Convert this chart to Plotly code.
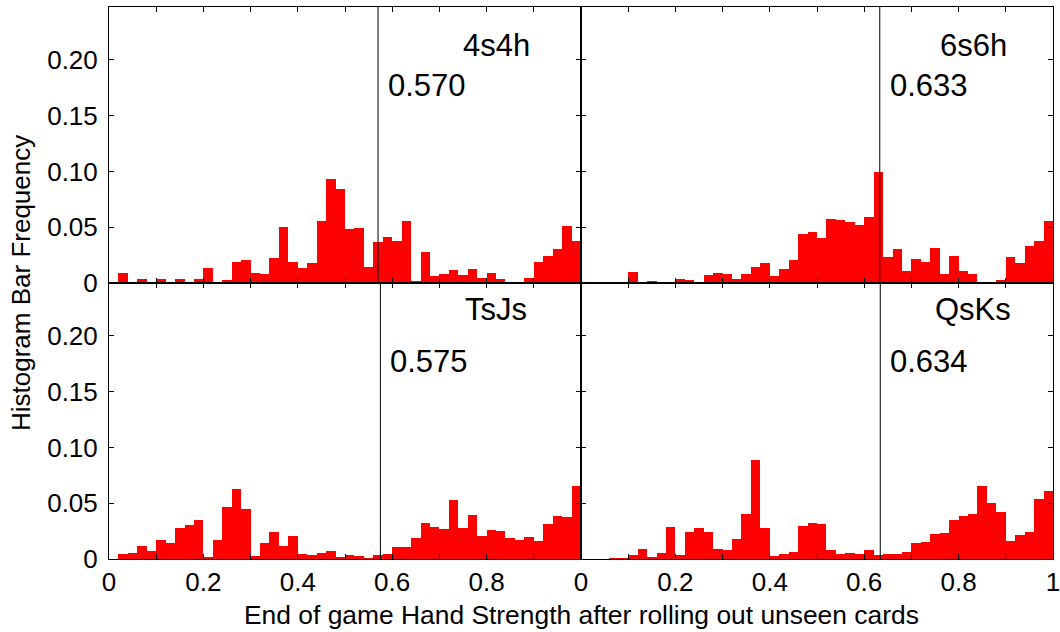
import numpy as np
import plotly.graph_objects as go

# ---------------- data ----------------
BIN_EDGES = np.linspace(0.0, 1.0, 51)          # 50 bins of width 0.02
HANDS = ["4s4h", "6s6h", "TsJs", "QsKs"]
MEAN_STRENGTH = [0.570, 0.633, 0.575, 0.634]

FREQ_4S4H = [0.0, 0.0091, 0.0009, 0.0033, 0.0006, 0.0033, 0.0006, 0.0039, 0.0006, 0.0036,
             0.0133, 0.0006, 0.0024, 0.0185, 0.0203, 0.0088, 0.0085, 0.0227, 0.0503, 0.0191,
             0.0136, 0.0179, 0.0555, 0.0930, 0.0845, 0.0488, 0.0494, 0.0148, 0.0370, 0.0415,
             0.0376, 0.0552, 0.0018, 0.0276, 0.0067, 0.0079, 0.0115, 0.0076, 0.0127, 0.0042,
             0.0091, 0.0036, 0.0003, 0.0003, 0.0048, 0.0188, 0.0239, 0.0306, 0.0512, 0.0379]
FREQ_6S6H = [0.0, 0.0, 0.0, 0.0006, 0.0003, 0.0097, 0.0003, 0.0021, 0.0006, 0.0006,
             0.0039, 0.0024, 0.0009, 0.0070, 0.0094, 0.0079, 0.0039, 0.0079, 0.0142, 0.0179,
             0.0061, 0.0130, 0.0209, 0.0436, 0.0460, 0.0403, 0.0573, 0.0567, 0.0548, 0.0524,
             0.0588, 0.0994, 0.0236, 0.0303, 0.0106, 0.0215, 0.0188, 0.0318, 0.0079, 0.0245,
             0.0109, 0.0085, 0.0003, 0.0003, 0.0030, 0.0236, 0.0176, 0.0330, 0.0379, 0.0560]
FREQ_TSJS = [0.0, 0.0042, 0.0055, 0.0115, 0.0070, 0.0173, 0.0148, 0.0282, 0.0306, 0.0352,
             0.0018, 0.0173, 0.0464, 0.0624, 0.0452, 0.0027, 0.0145, 0.0239, 0.0118, 0.0206,
             0.0045, 0.0036, 0.0052, 0.0073, 0.0015, 0.0036, 0.0027, 0.0006, 0.0033, 0.0048,
             0.0112, 0.0112, 0.0185, 0.0321, 0.0288, 0.0270, 0.0530, 0.0279, 0.0397, 0.0206,
             0.0261, 0.0252, 0.0188, 0.0167, 0.0197, 0.0158, 0.0315, 0.0382, 0.0376, 0.0658]
FREQ_QSKS = [0.0, 0.0, 0.0, 0.0006, 0.0006, 0.0036, 0.0091, 0.0015, 0.0052, 0.0288,
             0.0033, 0.0242, 0.0276, 0.0242, 0.0094, 0.0079, 0.0176, 0.0406, 0.0888, 0.0279,
             0.0024, 0.0042, 0.0064, 0.0300, 0.0324, 0.0315, 0.0085, 0.0045, 0.0058, 0.0045,
             0.0079, 0.0039, 0.0045, 0.0045, 0.0061, 0.0145, 0.0155, 0.0224, 0.0230, 0.0352,
             0.0388, 0.0400, 0.0655, 0.0506, 0.0418, 0.0161, 0.0215, 0.0242, 0.0542, 0.0612]

X_TICKS = [0.0, 0.1, 0.2, 0.3, 0.4, 0.5, 0.6, 0.7, 0.8, 0.9, 1.0]
X_LABELS_LEFT = ["0", "", "0.2", "", "0.4", "", "0.6", "", "0.8", "", ""]
X_LABELS_RIGHT = ["0", "", "0.2", "", "0.4", "", "0.6", "", "0.8", "", "1"]
Y_TICKS = [0.0, 0.05, 0.10, 0.15, 0.20]
Y_LABELS = ["0", "0.05", "0.10", "0.15", "0.20"]

X_TITLE = "End of game Hand Strength after rolling out unseen cards"
Y_TITLE = "Histogram Bar Frequency"

# ---------------- figure ----------------
FONT = "Liberation Sans, Arial, sans-serif"
W, H = 1060, 632
M = dict(l=109, r=7, t=7, b=73, autoexpand=False)
YMAX = 0.2475

centers = (BIN_EDGES[:-1] + BIN_EDGES[1:]) / 2
width = BIN_EDGES[1] - BIN_EDGES[0]

series = [FREQ_4S4H, FREQ_6S6H, FREQ_TSJS, FREQ_QSKS]
fig = go.Figure()
for i, freq in enumerate(series):
    k = i + 1
    fig.add_trace(go.Bar(
        x=centers, y=freq, width=width,
        marker=dict(color="#ff0000", line=dict(width=0)),
        xaxis="x" if k == 1 else f"x{k}", yaxis="y" if k == 1 else f"y{k}",
        showlegend=False, hoverinfo="x+y",
    ))

base_axis = dict(showline=True, linecolor="black", linewidth=1, mirror="ticks",
                 ticks="inside", ticklen=5, tickcolor="black", tickwidth=1,
                 showgrid=False, zeroline=False, automargin=False,
                 ticklabeloverflow="allow",
                 tickfont=dict(family=FONT, size=26, color="black"))

x_domains = [[0, 0.5], [0.5, 1], [0, 0.5], [0.5, 1]]
y_domains = [[0.5, 1], [0.5, 1], [0, 0.5], [0, 0.5]]
layout = {}
for i in range(4):
    k = i + 1
    xa = "xaxis" if k == 1 else f"xaxis{k}"
    ya = "yaxis" if k == 1 else f"yaxis{k}"
    xs = "x" if k == 1 else f"x{k}"
    ys = "y" if k == 1 else f"y{k}"
    bottom = i >= 2
    left = i % 2 == 0
    layout[xa] = dict(base_axis, domain=x_domains[i], range=[0, 1], anchor=ys,
                      tickmode="array", tickvals=X_TICKS,
                      ticktext=(X_LABELS_LEFT if left else X_LABELS_RIGHT),
                      showticklabels=bottom)
    layout[ya] = dict(base_axis, domain=y_domains[i], range=[0, YMAX], anchor=xs,
                      tickmode="array", tickvals=Y_TICKS, ticktext=Y_LABELS,
                      showticklabels=left, ticklabelstandoff=5)
fig.update_layout(**layout)

# vertical lines and annotations
name_pos = [(0.896, 0.2126), (0.907, 0.2126), (0.890, 0.2233), (0.915, 0.2233)]
val_y = [0.1767, 0.1767, 0.1767, 0.1767]
shapes = []
annotations = []
for i in range(4):
    k = i + 1
    xs = "x" if k == 1 else f"x{k}"
    ys = "y" if k == 1 else f"y{k}"
    v = MEAN_STRENGTH[i]
    shapes.append(dict(type="line", xref=xs, yref=f"{ys} domain", x0=v, x1=v, y0=0, y1=1,
                       line=dict(color="black", width=1)))
    annotations.append(dict(text=HANDS[i], xref=xs, yref=ys, x=name_pos[i][0], y=name_pos[i][1],
                            xanchor="right", yanchor="middle", showarrow=False,
                            font=dict(family=FONT, size=31, color="black")))
    annotations.append(dict(text=f"{v:.3f}", xref=xs, yref=ys, x=v + 0.017, y=val_y[i],
                            xanchor="left", yanchor="middle", showarrow=False,
                            font=dict(family=FONT, size=31, color="black")))

pw = W - M["l"] - M["r"]
ph = H - M["t"] - M["b"]
annotations.append(dict(text=X_TITLE, xref="paper", yref="paper", x=0.5, y=-56 / ph,
                        xanchor="center", yanchor="middle", showarrow=False,
                        font=dict(family=FONT, size=26.4, color="black")))
annotations.append(dict(text=Y_TITLE, xref="paper", yref="paper", x=(21 - M["l"]) / pw, y=0.5,
                        xanchor="center", yanchor="middle", textangle=-90, showarrow=False,
                        font=dict(family=FONT, size=26, color="black")))

fig.update_layout(width=W, height=H, margin=M, shapes=shapes, annotations=annotations,
                  plot_bgcolor="white", paper_bgcolor="white", bargap=0,
                  font=dict(family=FONT, size=26, color="black"))

fig.write_html("out.html", config={"displayModeBar": False},
               post_script="document.body.style.margin='0';document.body.style.overflow='hidden';")
